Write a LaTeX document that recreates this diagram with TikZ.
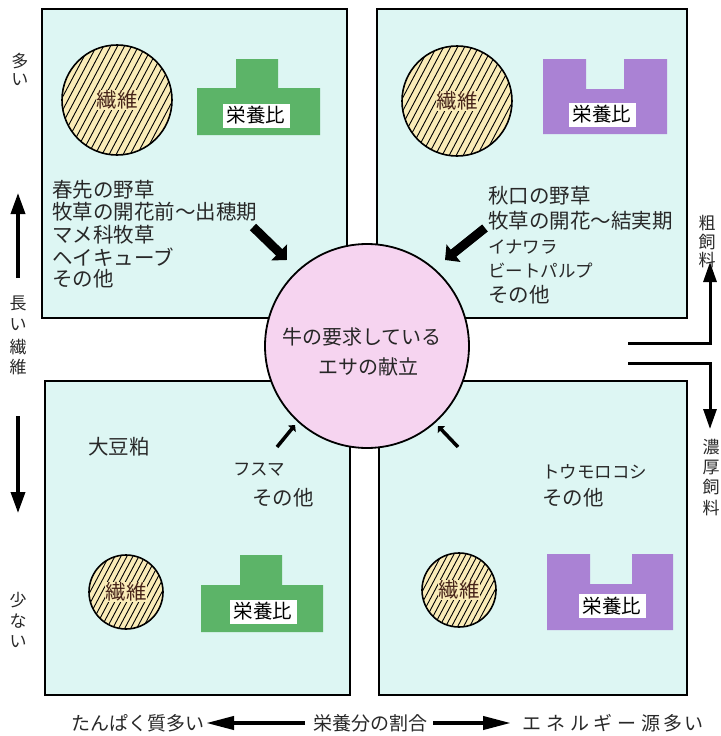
\documentclass[tikz,border=0pt]{standalone}
\usepackage{fontspec}
\setmainfont{Noto Sans CJK JP}
\usetikzlibrary{arrows.meta}
\definecolor{boxcyan}{RGB}{221,246,243}
\definecolor{cowpink}{RGB}{246,212,240}
\definecolor{ngreen}{RGB}{92,180,104}
\definecolor{npurple}{RGB}{170,130,212}
\definecolor{fiberfill}{RGB}{250,236,184}
\definecolor{fibertext}{RGB}{70,35,25}
\definecolor{inkgray}{RGB}{40,40,40}
\newcommand{\fiberdisc}[4]{%
  \begin{scope}
    \clip (#1,#2) circle[radius=#3];
    \fill[fiberfill] (#1,#2) circle[radius=#3];
    \foreach \k in {-16,...,16}{
      \draw[line width=0.9pt] ({#1+\k*#4-0.53*#3},{#2+#3}) -- ({#1+\k*#4+0.53*#3},{#2-#3});
    }
  \end{scope}
  \draw[line width=1.6pt] (#1,#2) circle[radius=#3];
}
\tikzset{
  panel/.style={fill=boxcyan, draw=black, line width=1.3pt},
  listtext/.style={anchor=west, inner sep=0pt, text=inkgray, font=\fontsize{20.5}{24}\selectfont},
  smalltext/.style={anchor=west, inner sep=0pt, text=inkgray, font=\fontsize{17.5}{24}\selectfont},
  sidelabel/.style={inner sep=0pt, text=inkgray, font=\fontsize{17}{20}\selectfont},
  fiberlabel/.style={inner sep=0.6pt, fill=fiberfill, text=fibertext, font=\fontsize{20.5}{24}\selectfont},
  ratiolabel/.style={fill=white, inner sep=1pt, minimum width=67pt, minimum height=24pt, text=black, font=\fontsize{19.5}{24}\selectfont},
  cowtext/.style={inner sep=0pt, text=black!85, font=\fontsize{20}{24}\selectfont},
  bigarrow/.style={line width=9pt, -{Triangle[angle=90:15.5pt]}},
  smallarrow/.style={line width=3.5pt, -{Triangle[angle=90:7pt]}},
  axisarrow/.style={line width=3.5pt, -{Triangle[length=21pt, width=14pt]}},
  bracketarrow/.style={line width=3pt, -{Triangle[length=20pt, width=13pt]}},
  bottomarrow/.style={line width=4pt, -{Triangle[length=28pt, width=13pt]}},
  bottomtext/.style={inner sep=0pt, text=inkgray, font=\fontsize{19}{24}\selectfont}
}
\begin{document}
\begin{tikzpicture}[x=1pt, y=-1pt]
\useasboundingbox (0,0) rectangle (720,736);

% panels
\draw[panel] (42,9) rectangle (347,318);
\draw[panel] (377,9) rectangle (687,318);
\draw[panel] (45,381) rectangle (350,695);
\draw[panel] (379,381) rectangle (687,695);

% fibre discs
\fiberdisc{117}{100}{55}{7}
\fiberdisc{457}{101}{55}{7}
\fiberdisc{126}{592}{37}{6}
\fiberdisc{459}{590}{37}{6}
\node[fiberlabel] (f1) at (117,100) {繊維};
\node[fiberlabel] (f2) at (457,101) {繊維};
\node[fiberlabel] (f3) at (126,592) {繊維};
\node[fiberlabel] (f4) at (459,590) {繊維};

% nutrient ratio shapes
\fill[ngreen] (197,135) -- (197,88) -- (236,88) -- (236,59) -- (278,59) -- (278,88) -- (320,88) -- (320,135) -- cycle;
\fill[npurple] (543,59) -- (586,59) -- (586,89) -- (624,89) -- (624,59) -- (667,59) -- (667,134) -- (543,134) -- cycle;
\fill[ngreen] (201,632) -- (201,585) -- (240,585) -- (240,555) -- (282,555) -- (282,585) -- (323,585) -- (323,632) -- cycle;
\fill[npurple] (547,554) -- (590,554) -- (590,584) -- (632,584) -- (632,554) -- (673,554) -- (673,630) -- (547,630) -- cycle;
\node[ratiolabel] (r1) at (256,115.5) {栄養比};
\node[ratiolabel] (r2) at (602,114.5) {栄養比};
\node[ratiolabel] (r3) at (263,611.5) {栄養比};
\node[ratiolabel] (r4) at (612,606) {栄養比};

% lists
\node[listtext] (tl1) at (52,190) {春先の野草};
\node[listtext] (tl2) at (52,212) {牧草の開花前～出穂期};
\node[listtext] (tl3) at (52,235) {マメ科牧草};
\node[listtext] (tl4) at (52,257) {ヘイキューブ};
\node[listtext] (tl5) at (52,279) {その他};

\node[listtext] (tr1) at (488,196) {秋口の野草};
\node[listtext] (tr2) at (488,221) {牧草の開花～結実期};
\node[smalltext] (tr3) at (488,247) {イナワラ};
\node[smalltext] (tr4) at (488,271) {ビートパルプ};
\node[listtext] (tr5) at (488,295) {その他};

\node[listtext] (bl1) at (88,447) {大豆粕};
\node[smalltext] (bl2) at (233,470) {フスマ};
\node[listtext] (bl3) at (252,498) {その他};

\node[smalltext] (br1) at (542,472) {トウモロコシ};
\node[listtext] (br2) at (542,498) {その他};

% central circle
\node[circle, draw=black, line width=1.8pt, fill=cowpink, minimum size=204pt, inner sep=0pt] (cow) at (367,346) {};
\node[cowtext] (cowt1) at (362,337) {牛の要求している};
\node[cowtext] (cowt2) at (368,367) {エサの献立};

% arrows into the circle
\coordinate (a1s) at (253,227); \coordinate (a1e) at (287,260);
\coordinate (a2s) at (485,228); \coordinate (a2e) at (445,260);
\coordinate (a3s) at (277,447); \coordinate (a3e) at (295,425);
\coordinate (a4s) at (458,447); \coordinate (a4e) at (438,426);
\draw[bigarrow] (a1s) -- (a1e);
\draw[bigarrow] (a2s) -- (a2e);
\draw[smallarrow] (a3s) -- (a3e);
\draw[smallarrow] (a4s) -- (a4e);

% left axis
\foreach \c/\yy [count=\i] in {多/61, い/80}
  \node[sidelabel] (lm\i) at (20,\yy) {\c};
\foreach \c/\yy [count=\i] in {長/303, い/325, 繊/347, 維/367}
  \node[sidelabel] (ll\i) at (18,\yy) {\c};
\foreach \c/\yy [count=\i] in {少/600, な/621, い/642}
  \node[sidelabel] (ls\i) at (18,\yy) {\c};
\coordinate (upS) at (18,278); \coordinate (upE) at (18,193);
\coordinate (dnS) at (18,416); \coordinate (dnE) at (18,513);
\draw[axisarrow] (upS) -- (upE);
\draw[axisarrow] (dnS) -- (dnE);

% right axis
\foreach \c/\yy [count=\i] in {粗/223, 飼/242, 料/260}
  \node[sidelabel] (rr\i) at (707,\yy) {\c};
\foreach \c/\yy [count=\i] in {濃/447, 厚/467, 飼/487, 料/508}
  \node[sidelabel] (rc\i) at (711,\yy) {\c};
\coordinate (bu0) at (628,343); \coordinate (bu1) at (710,343); \coordinate (bu2) at (710,262);
\coordinate (bd0) at (628,363); \coordinate (bd1) at (710,363); \coordinate (bd2) at (710,429);
\draw[bracketarrow] (bu0) -- (bu1) -- (bu2);
\draw[bracketarrow] (bd0) -- (bd1) -- (bd2);

% bottom axis
\node[bottomtext] (b1) at (138,723) {たんぱく質多い};
\node[bottomtext] (b2) at (370,723) {栄養分の割合};
\node[bottomtext] (b3) at (613,723) {エ\hspace{5pt}ネ\hspace{5pt}ル\hspace{5pt}ギ\hspace{5pt}ー\hspace{5pt}源\hspace{3pt}多\hspace{2pt}い};
\coordinate (blS) at (305,723); \coordinate (blE) at (206,723);
\coordinate (brS) at (433,723); \coordinate (brE) at (511,723);
\draw[bottomarrow] (blS) -- (blE);
\draw[bottomarrow] (brS) -- (brE);
\end{tikzpicture}
\end{document}
